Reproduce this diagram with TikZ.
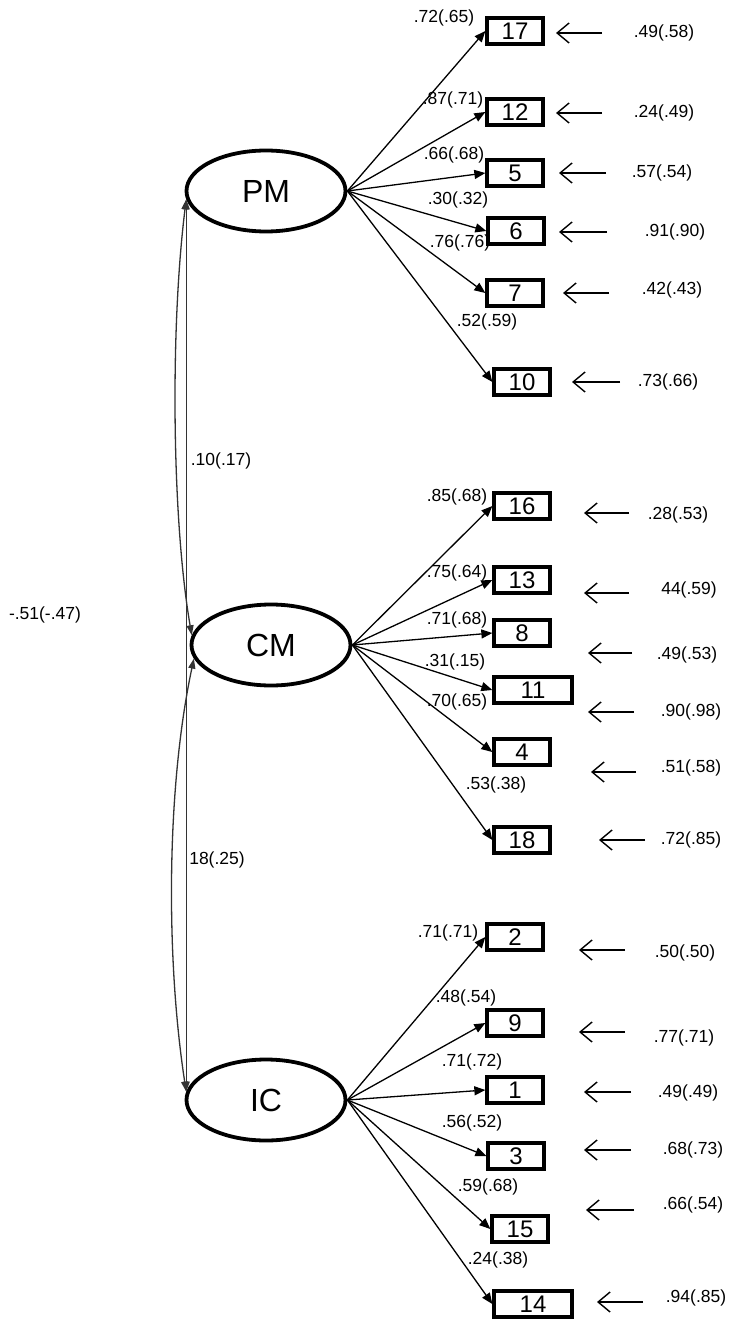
\documentclass[tikz,border=0pt]{standalone}
\usepackage{fontspec}
\setmainfont{Liberation Sans}
\usetikzlibrary{arrows.meta,shapes.geometric}
\begin{document}
\begin{tikzpicture}[x=1pt,y=-1pt,
  lat/.style={ellipse,draw,line width=3.8pt,minimum width=159pt,minimum height=81pt,inner sep=0pt,font=\fontsize{32}{32}\selectfont},
  ind/.style={draw,line width=3.8pt,minimum width=55.5pt,minimum height=26pt,inner sep=0pt,font=\fontsize{24}{24}\selectfont},
  indw/.style={ind,minimum width=77.5pt},
  load/.style={line width=1.3pt,-{Triangle[length=11pt,width=9pt]}},
  err/.style={line width=1.4pt,-{Straight Barb[length=12pt,width=20pt,line width=1.4pt]}},
  cov/.style={line width=1.3pt,draw=black!80,{Triangle[length=10pt,width=7pt]}-{Triangle[length=10pt,width=7pt]}},
  lab/.style={font=\fontsize{17.5}{17.5}\selectfont,inner sep=0pt}]
\useasboundingbox (0,0) rectangle (728,1321);
% latent variables
\node[lat] (PM) at (266,191) {PM};
\node[lat] (CM) at (271,645) {CM};
\node[lat] (IC) at (266,1100) {IC};
% PM indicators
\node[ind] (i17) at (515,31) {17};
\node[ind] (i12) at (515,112) {12};
\node[ind] (i5) at (515,173) {5};
\node[ind] (i6) at (516,231) {6};
\node[ind] (i7) at (515,293) {7};
\node[ind] (i10) at (522,382) {10};
% CM indicators
\node[ind] (i16) at (522,506) {16};
\node[ind] (i13) at (522,580) {13};
\node[ind] (i8) at (522,633) {8};
\node[indw] (i11) at (533,690) {11};
\node[ind] (i4) at (522,752) {4};
\node[ind] (i18) at (522,840) {18};
% IC indicators
\node[ind] (i2) at (515,937) {2};
\node[ind] (i9) at (515,1023) {9};
\node[ind] (i1) at (515,1090) {1};
\node[ind] (i3) at (516,1156) {3};
\node[ind] (i15) at (520,1229) {15};
\node[indw] (i14) at (533,1304) {14};
% loadings
\foreach \t in {i17,i12,i5,i6,i7,i10} \draw[load] (PM.east) -- (\t.west);
\foreach \t in {i16,i13,i8,i11,i4,i18} \draw[load] (CM.east) -- (\t.west);
\foreach \t in {i2,i9,i1,i3,i15,i14} \draw[load] (IC.east) -- (\t.west);
% loading labels
\node[lab] (l17) at (444,18) {.72(.65)};
\node[lab] (l12) at (453,100) {.87(.71)};
\node[lab] (l5) at (454,155) {.66(.68)};
\node[lab] (l6) at (458,200) {.30(.32)};
\node[lab] (l7) at (460,243) {.76(.76)};
\node[lab] (l10) at (487,322) {.52(.59)};
\node[lab] (l16) at (457,497) {.85(.68)};
\node[lab] (l13) at (457,573) {.75(.64)};
\node[lab] (l8) at (457,620) {.71(.68)};
\node[lab] (l11) at (455,662) {.31(.15)};
\node[lab] (l4) at (457,702) {.70(.65)};
\node[lab] (l18) at (496,785) {.53(.38)};
\node[lab] (l2) at (448,933) {.71(.71)};
\node[lab] (l9) at (466,998) {.48(.54)};
\node[lab] (l1) at (472,1062) {.71(.72)};
\node[lab] (l3) at (472,1123) {.56(.52)};
\node[lab] (l15) at (488,1187) {.59(.68)};
\node[lab] (l14) at (498,1260) {.24(.38)};
% error terms
\foreach \n/\xa/\xb/\y/\xl/\yl/\v in {
  17/602/556/33/664/33/.49(.58),
  12/602/556/113/664/113/.24(.49),
  5/606/559/173/662/173/.57(.54),
  6/607/559/232/675/232/.91(.90),
  7/609/563/293/672/290/.42(.43),
  10/620/572/382/668/382/.73(.66),
  16/629/584/513/678/515/.28(.53),
  13/629/584/593/689/590/44(.59),
  8/632/588/653/687/655/.49(.53),
  11/634/588/712/691/712/.90(.98),
  4/636/591/772/691/768/.51(.58),
  18/645/599/840/691/840/.72(.85),
  2/625/579/950/685/953/.50(.50),
  9/625/579/1032/684/1038/.77(.71),
  1/631/584/1092/688/1093/.49(.49),
  3/631/584/1150/693/1150/.68(.73),
  15/634/586/1210/693/1205/.66(.54),
  14/643/597/1302/696/1298/.94(.85)} {
  \coordinate (es\n) at (\xa,\y);
  \coordinate (et\n) at (\xb,\y);
  \draw[err] (es\n) -- (et\n);
  \node[lab] (ev\n) at (\xl,\yl) {\v};
}
% covariances
\draw[cov] (PM.186) -- (IC.174);
\draw[cov] (PM.186) .. controls (170,330) and (172,520) .. (CM.173);
\draw[cov] (CM.190) .. controls (166,790) and (166,960) .. (IC.174);
\node[lab] (c1) at (221,461) {.10(.17)};
\node[lab] (c2) at (217,860) {18(.25)};
\node[lab] (c3) at (45,615) {-.51(-.47)};
\end{tikzpicture}
\end{document}
